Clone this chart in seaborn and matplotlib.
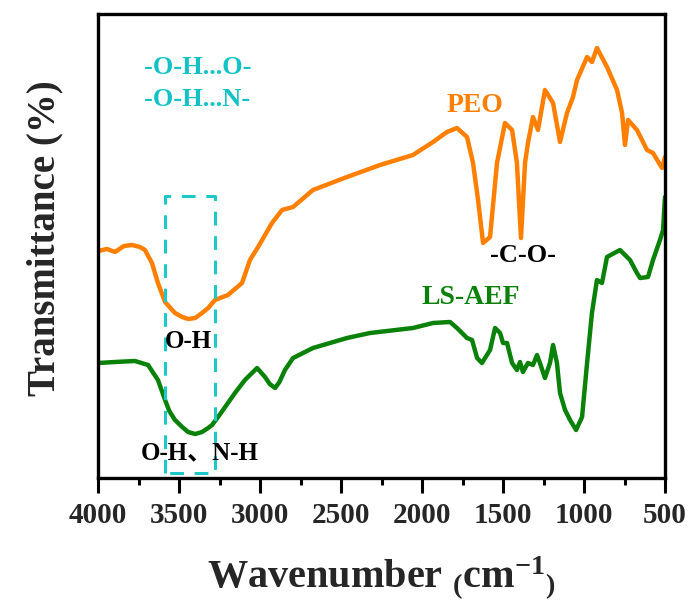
import numpy as np
import pandas as pd
import matplotlib
matplotlib.use("Agg")
import matplotlib.pyplot as plt
import seaborn as sns

# ---- data (arbitrary transmittance units) ----
peo_wn = [4000, 3944, 3895, 3840, 3790, 3741, 3710, 3667, 3630, 3586, 3525, 3480, 3444, 3400,
          3358, 3320, 3278, 3198, 3111, 3062, 3012, 2926, 2864, 2796, 2673, 2463, 2259, 2056,
          1932, 1846, 1784, 1722, 1685, 1654, 1623, 1580, 1537, 1488, 1444, 1414, 1389, 1364,
          1346, 1315, 1284, 1241, 1191, 1148, 1105, 1068, 1043, 981, 951, 920, 858, 796,
          765, 747, 728, 673, 611, 574, 518, 500]
peo_t = [227, 229, 226, 232, 233, 231, 228, 215, 195, 176, 165, 161, 159, 160,
         165, 170, 178, 183, 195, 218, 231, 255, 268, 271, 288, 301, 313, 323,
         336, 346, 350, 341, 315, 278, 235, 241, 315, 355, 348, 315, 240, 315,
         335, 361, 348, 388, 375, 336, 365, 381, 398, 421, 416, 430, 411, 388,
         365, 333, 358, 348, 328, 325, 310, 321]

ls_wn = [4000, 3895, 3772, 3691, 3630, 3586, 3560, 3525, 3480, 3444, 3400, 3358, 3320, 3296,
         3250, 3198, 3150, 3093, 3018, 2969, 2940, 2907, 2880, 2846, 2796, 2673, 2463, 2321,
         2056, 1932, 1827, 1784, 1722, 1691, 1660, 1630, 1580, 1549, 1518, 1500, 1475, 1444,
         1414, 1395, 1377, 1346, 1315, 1290, 1272, 1241, 1210, 1191, 1167, 1148, 1117, 1086,
         1049, 1012, 981, 951, 920, 889, 858, 778, 716, 673, 654, 605, 574, 531, 512, 500]
ls_t = [115, 116, 117, 113, 98, 78, 67, 58, 51, 46, 44, 46, 50, 53,
        63, 75, 86, 98, 110, 101, 94, 90, 96, 108, 120, 130, 140, 145,
        150, 155, 156, 150, 140, 138, 120, 115, 128, 150, 145, 135, 135, 115,
        108, 116, 106, 115, 113, 123, 115, 100, 115, 133, 115, 85, 68, 58,
        48, 61, 115, 165, 198, 195, 221, 228, 218, 205, 200, 201, 218, 238, 248, 281]

series_names = ["PEO", "LS-AEF"]
xticks = [4000, 3500, 3000, 2500, 2000, 1500, 1000, 500]
box_wn = [3586, 3278]
box_t = [5, 282]

df = pd.concat([
    pd.DataFrame({"wn": peo_wn, "t": peo_t, "s": "PEO"}),
    pd.DataFrame({"wn": ls_wn, "t": ls_t, "s": "LS-AEF"}),
])

sns.set_theme(style="ticks")
plt.rcParams["font.family"] = ["Liberation Serif", "Noto Sans CJK SC"]
plt.rcParams["font.weight"] = "bold"
plt.rcParams["mathtext.fontset"] = "custom"
plt.rcParams["mathtext.rm"] = "Liberation Serif:bold"
plt.rcParams["mathtext.it"] = "Liberation Serif:bold"
plt.rcParams["mathtext.bf"] = "Liberation Serif:bold"

fig = plt.figure(figsize=(6.93, 6.01), dpi=100)
ax = fig.add_axes([98 / 693, 1 - 478 / 601, (665 - 98) / 693, (478 - 14) / 601])

palette = {"PEO": "#ff8000", "LS-AEF": "#0a820a"}
for name in series_names:
    sub = df[df["s"] == name]
    sns.lineplot(x=sub["wn"].values, y=sub["t"].values, sort=False, color=palette[name],
                 linewidth=3.2, ax=ax, legend=False)

ax.set_xlim(4000, 500)
ax.set_ylim(0, 464)
ax.set_xticks(xticks)
ax.set_xticklabels([str(v) for v in xticks])
ax.set_xticks(np.arange(3750, 500, -500), minor=True)
ax.set_yticks([])
ax.tick_params(axis="x", which="major", direction="out", length=11, width=2.2,
               labelsize=21, pad=6, color="black")
ax.tick_params(axis="x", which="minor", direction="out", length=5, width=2.2, color="black")
for lab in ax.get_xticklabels():
    lab.set_fontweight("bold")
for sp in ax.spines.values():
    sp.set_linewidth(2.4)
    sp.set_color("black")
ax.set_xlabel("")
ax.set_ylabel("")

# dashed box
ax.plot([box_wn[0], box_wn[0], box_wn[1], box_wn[1], box_wn[0]],
        [box_t[0], box_t[1], box_t[1], box_t[0], box_t[0]],
        color="#1cc8c8", linewidth=2.2, dashes=(4.5, 3.5), clip_on=False)

cyan = "#12c2c6"
tkw = dict(ha="center", va="center", fontweight="bold")
ax.text(3383, 410, "-O-H...O-", color=cyan, fontsize=19, **tkw)
ax.text(3389, 379, "-O-H...N-", color=cyan, fontsize=19, **tkw)
ax.text(1673, 373, "PEO", color=palette["PEO"], fontsize=20, **tkw)
ax.text(1697, 180, "LS-AEF", color=palette["LS-AEF"], fontsize=20, **tkw)
ax.text(1376, 223, "-C-O-", color="black", fontsize=19, **tkw)
ax.text(3444, 136, "O-H", color="black", fontsize=18, **tkw)
ax.text(3370, 25, "O-H、N-H", color="black", fontsize=18,
        family=["Liberation Serif", "Noto Sans CJK SC"], **tkw)

fig.text(381 / 693, 1 - 578 / 601, r"Wavenumber $_{(}$cm$^{-1}$$_{)}$",
         ha="center", va="center", fontsize=29, fontweight="bold")
fig.text(45 / 693, 1 - 238 / 601, "Transmittance (%)", rotation=90,
         ha="center", va="center", fontsize=28, fontweight="bold")

fig.savefig("out.png", dpi=100)
